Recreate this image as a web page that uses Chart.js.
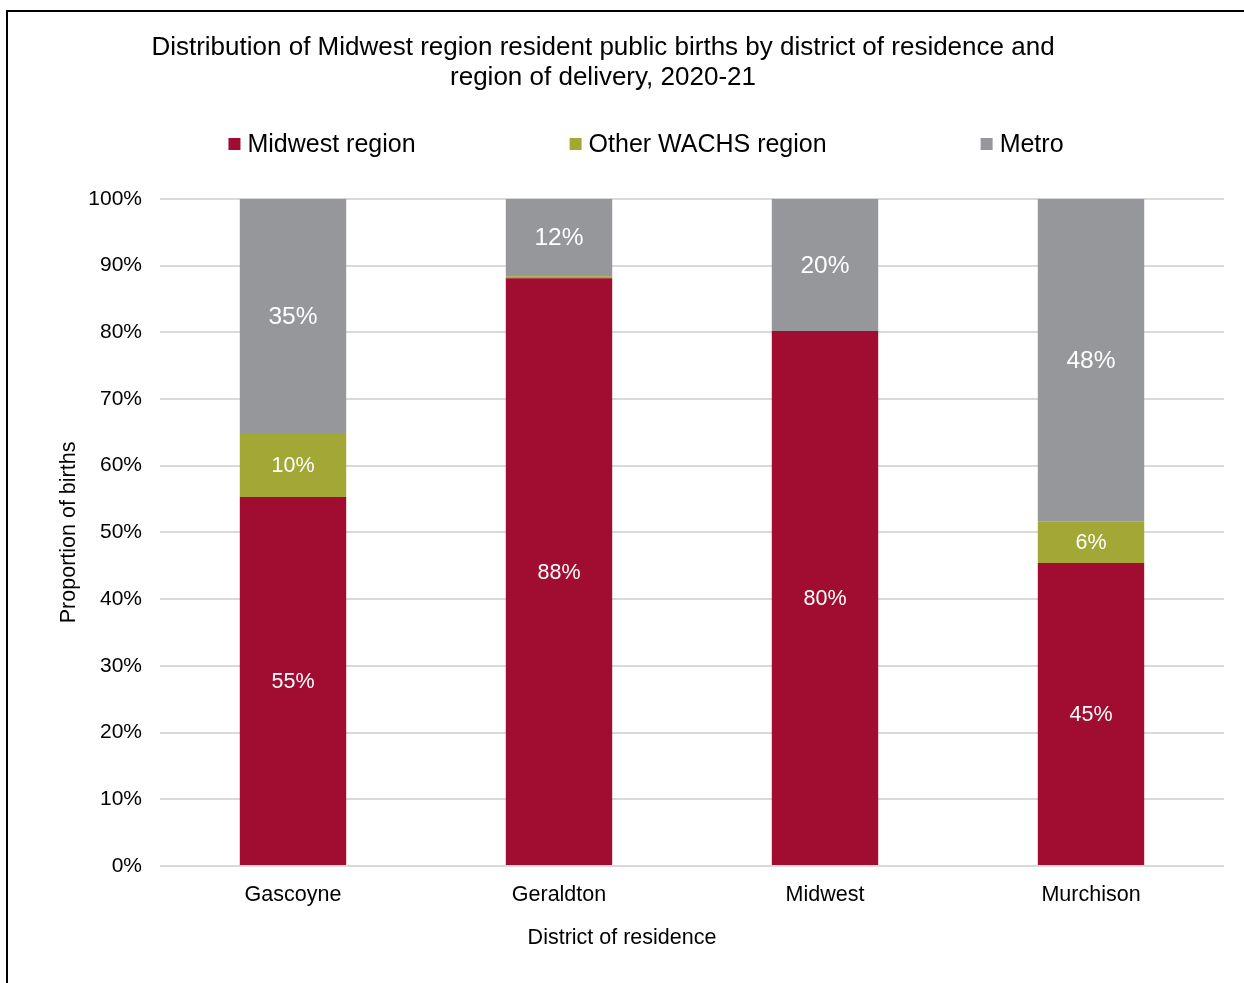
<!DOCTYPE html>
<html>
<head>
<meta charset="utf-8">
<script src="https://cdn.jsdelivr.net/npm/chart.js@4/dist/chart.umd.min.js"></script>
<style>
    html, body { margin: 0; padding: 0; background: #fff; }
    #wrap { position: relative; width: 1244px; height: 983px; overflow: hidden; }
    #frame {
        position: absolute; left: 6px; top: 10px; right: -4px; bottom: -4px;
        border-left: 2px solid #000; border-top: 2px solid #000;
    }
    #chart { position: absolute; left: 0; top: 0; }
</style>
</head>
<body>
<div id="wrap">
    <div id="frame"></div>
    <canvas id="chart" width="1244" height="983"></canvas>
</div>
<script>
// District categories and share of births (%) by region of delivery
const districts = ['Gascoyne', 'Geraldton', 'Midwest', 'Murchison'];
const midwestRegion = [55.3, 88.1, 80.2, 45.4];
const otherWachs = [9.6, 0.3, 0, 6.2];
const metro = [35.1, 11.6, 19.8, 48.4];
const yTicks = [0, 10, 20, 30, 40, 50, 60, 70, 80, 90, 100];

const FONT = '"Liberation Sans", Arial, sans-serif';

// Centres the title block on a given x
const titleShift = {
    id: 'titleShift',
    afterLayout(chart, args, opts) {
        const tb = chart.titleBlock;
        if (!tb) return;
        const w = tb.right - tb.left;
        tb.left = opts.centerX - w / 2;
        tb.right = opts.centerX + w / 2;
    }
};

// Single-row legend with wide gaps between the entries
const rowLegend = {
    id: 'rowLegend',
    afterDraw(chart, args, opts) {
        const ctx = chart.ctx;
        ctx.save();
        ctx.font = opts.fontSize + 'px ' + FONT;
        ctx.textBaseline = 'middle';
        ctx.textAlign = 'left';
        const items = chart.data.datasets.map(ds => ({
            text: ds.label, color: ds.backgroundColor, w: ctx.measureText(ds.label).width
        }));
        const total = items.reduce((s, it) => s + opts.box + opts.boxGap + it.w, 0) + opts.gap * (items.length - 1);
        let x = opts.centerX - total / 2;
        items.forEach(it => {
            ctx.fillStyle = it.color;
            ctx.fillRect(x, opts.y - opts.box / 2, opts.box, opts.box);
            x += opts.box + opts.boxGap;
            ctx.fillStyle = '#000';
            ctx.fillText(it.text, x, opts.y + 1);
            x += it.w + opts.gap;
        });
        ctx.restore();
    }
};

// Caption under the category axis, centred on the page rather than the plot
const xCaption = {
    id: 'xCaption',
    afterDraw(chart, args, opts) {
        const ctx = chart.ctx;
        ctx.save();
        ctx.font = opts.fontSize + 'px ' + FONT;
        ctx.fillStyle = '#000';
        ctx.textAlign = 'center';
        ctx.textBaseline = 'middle';
        ctx.fillText(opts.text, opts.centerX, opts.y);
        ctx.restore();
    }
};

// Percentage labels in the middle of each bar segment
const segmentLabels = {
    id: 'segmentLabels',
    afterDatasetsDraw(chart) {
        const ctx = chart.ctx;
        ctx.save();
        ctx.textAlign = 'center';
        ctx.textBaseline = 'middle';
        ctx.fillStyle = '#fff';
        chart.data.datasets.forEach((ds, i) => {
            const meta = chart.getDatasetMeta(i);
            ctx.font = ds.labelSize + 'px ' + FONT;
            meta.data.forEach((bar, j) => {
                const v = ds.data[j];
                if (v < 1) return;
                ctx.fillText(Math.round(v) + '%', bar.x, (bar.y + bar.base) / 2 + 1);
            });
        });
        ctx.restore();
    }
};

new Chart(document.getElementById('chart'), {
    type: 'bar',
    data: {
        labels: districts,
        datasets: [
            { label: 'Midwest region', data: midwestRegion, backgroundColor: '#a10d31', labelSize: 21.5 },
            { label: 'Other WACHS region', data: otherWachs, backgroundColor: '#a3a735', labelSize: 21.5 },
            { label: 'Metro', data: metro, backgroundColor: '#96979b', labelSize: 24.5 }
        ]
    },
    options: {
        responsive: false,
        animation: false,
        events: [],
        layout: { padding: { left: 0, right: 20, top: 0, bottom: 0 } },
        datasets: {
            bar: { categoryPercentage: 1, barPercentage: 0.4, borderWidth: 0 }
        },
        plugins: {
            legend: { display: false },
            tooltip: { enabled: false },
            title: {
                display: true,
                text: ['Distribution of Midwest region resident public births by district of residence and',
                       'region of delivery, 2020-21'],
                color: '#000',
                font: { family: FONT, size: 26, weight: 'normal', lineHeight: 1.15 },
                padding: { top: 33, bottom: 106 }
            },
            titleShift: { centerX: 603 },
            rowLegend: { centerX: 646, y: 144, fontSize: 25, box: 12, boxGap: 7, gap: 154 },
            xCaption: { text: 'District of residence', centerX: 622, y: 938, fontSize: 21.5 }
        },
        scales: {
            x: {
                stacked: true,
                grid: { display: false, drawTicks: false },
                border: { display: false },
                ticks: { color: '#000', padding: 16, font: { family: FONT, size: 21.5 } },
                afterFit(scale) { scale.height = 117; }
            },
            y: {
                stacked: true,
                min: 0, max: 100,
                afterBuildTicks(scale) { scale.ticks = yTicks.map(v => ({ value: v })); },
                grid: { color: '#d9d9d9', lineWidth: 2, drawTicks: false },
                border: { display: false },
                ticks: {
                    color: '#000', padding: 18,
                    font: { family: FONT, size: 21 },
                    callback: v => v + '%'
                },
                title: {
                    display: true, text: 'Proportion of births', color: '#000',
                    font: { family: FONT, size: 21.5 }, padding: { top: 56, bottom: 0 }
                },
                afterFit(scale) { scale.width = 160; }
            }
        }
    },
    plugins: [titleShift, rowLegend, xCaption, segmentLabels]
});
</script>
</body>
</html>
